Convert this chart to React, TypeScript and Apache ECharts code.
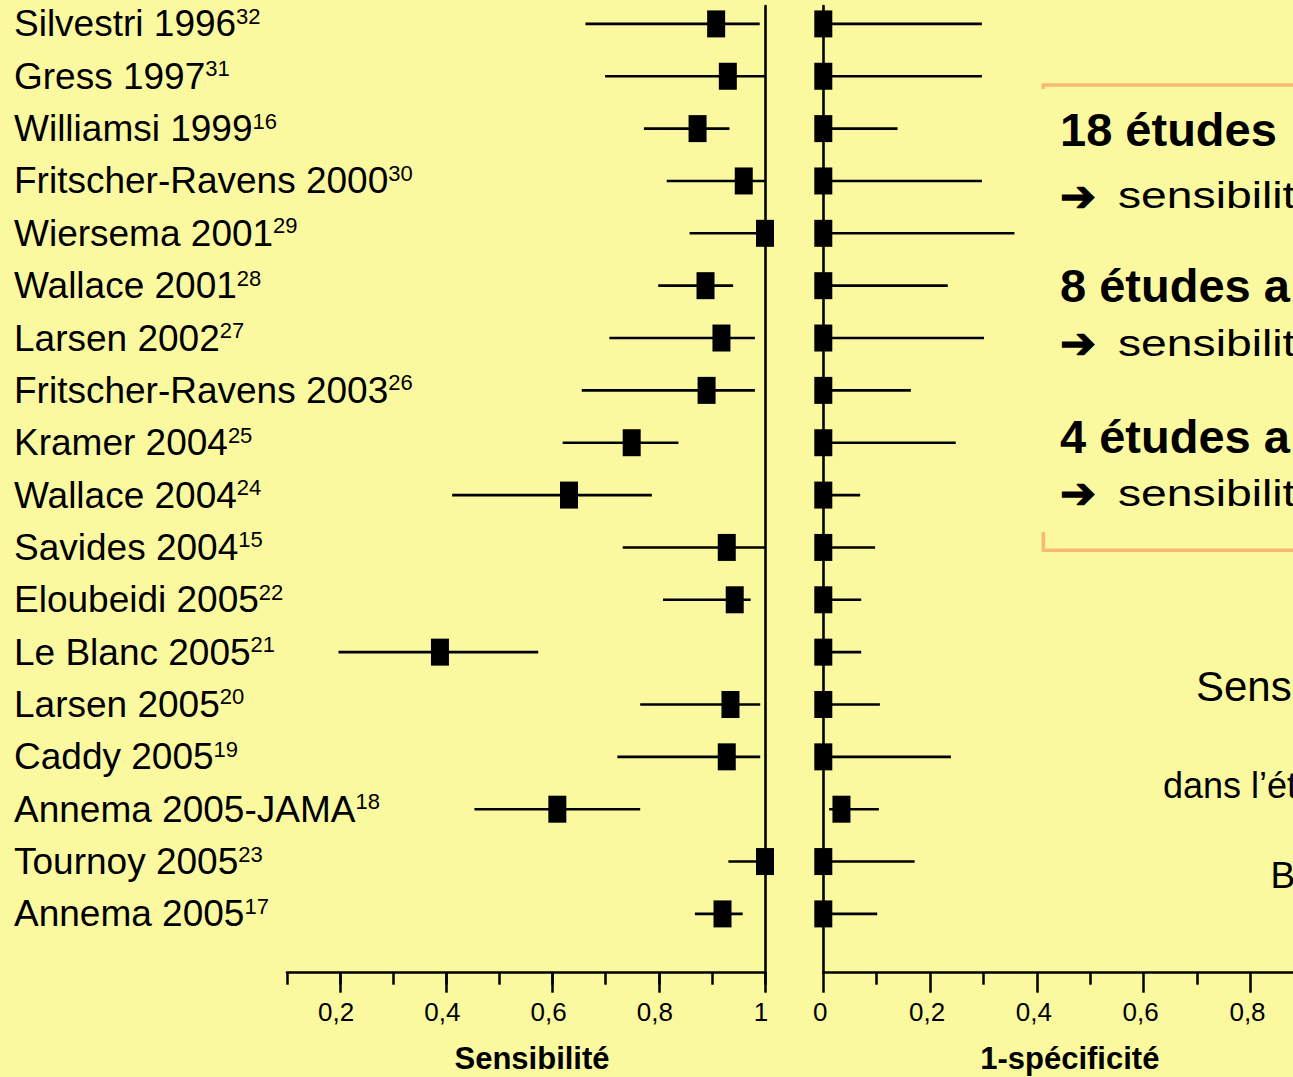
import React, { useEffect, useRef } from "react";
import * as echarts from "echarts";

// ---- data ----
const studies = [
  "Silvestri 1996", "Gress 1997", "Williamsi 1999", "Fritscher-Ravens 2000", "Wiersema 2001",
  "Wallace 2001", "Larsen 2002", "Fritscher-Ravens 2003", "Kramer 2004", "Wallace 2004",
  "Savides 2004", "Eloubeidi 2005", "Le Blanc 2005", "Larsen 2005", "Caddy 2005",
  "Annema 2005-JAMA", "Tournoy 2005", "Annema 2005",
];
const refs = ["32", "31", "16", "30", "29", "28", "27", "26", "25", "24", "15", "22", "21", "20", "19", "18", "23", "17"];

const sensPoint = [0.908, 0.930, 0.873, 0.960, 1.0, 0.888, 0.918, 0.890, 0.749, 0.631, 0.928, 0.943, 0.388, 0.935, 0.928, 0.609, 1.0, 0.920];
const sensLow = [0.662, 0.699, 0.772, 0.815, 0.858, 0.799, 0.707, 0.655, 0.619, 0.411, 0.732, 0.808, 0.197, 0.765, 0.722, 0.453, 0.931, 0.868];
const sensHigh = [0.990, 1.0, 0.933, 1.0, 1.0, 0.940, 0.981, 0.981, 0.837, 0.787, 1.0, 0.973, 0.573, 0.991, 0.991, 0.765, 1.0, 0.958];

const fprPoint = [0, 0, 0, 0, 0, 0, 0, 0, 0, 0, 0, 0, 0, 0, 0, 0.034, 0, 0];
const fprLow = [0, 0, 0, 0, 0, 0, 0, 0, 0, 0, 0, 0, 0, 0, 0, 0.011, 0, 0];
const fprHigh = [0.297, 0.297, 0.139, 0.297, 0.358, 0.233, 0.301, 0.164, 0.248, 0.069, 0.097, 0.071, 0.071, 0.106, 0.239, 0.104, 0.171, 0.101];

const sensMajorTicks = [0.2, 0.4, 0.6, 0.8, 1.0];
const sensTitle = "Sensibilité";
const fprTitle = "1-spécificité";

const boxBold = ["18 études", "8 études a", "4 études a"];
const boxArrowText = ["sensibilité", "sensibilité", "sensibilité"];
const sideTexts = ["Sensibilité", "dans l’étude", "B"];

// ---- styling ----
const BG = "#FBF9A0";
const FONT = "'Liberation Sans', Arial, sans-serif";
const ORANGE = "#F8B977";
const Y_MIN = -0.342;
const Y_MAX = 18.123;
const rowIdx = studies.map((_, i) => i);
const fmt = (v: number) => {
  const r = Math.round(v * 10) / 10;
  return String(r).replace(".", ",");
};

function buildOption() {
  const tickStyle = { color: "#000", width: 2.5 };
  const lineStyle = { color: "#000", width: 2.6 };

  const ciRender = (_params: any, api: any) => {
    const y = api.value(2);
    const p1 = api.coord([api.value(0), y]);
    const p2 = api.coord([api.value(1), y]);
    return {
      type: "line",
      shape: { x1: p1[0], y1: p1[1], x2: p2[0], y2: p2[1] },
      style: { stroke: "#000", lineWidth: 2.6 },
    };
  };

  const graphics: any[] = [];
  const boldY = [129, 285, 436.7];
  const arrowY = [195.5, 343.3, 493.3];
  boxBold.forEach((t, i) => {
    graphics.push({
      type: "text",
      x: 1060,
      y: boldY[i],
      style: {
        text: t,
        fontFamily: FONT,
        fontSize: 47,
        fontWeight: "bold",
        fill: "#000",
        align: "left",
        verticalAlign: "middle",
      },
    });
    graphics.push({
      type: "text",
      x: 1060,
      y: arrowY[i],
      style: {
        text: "➔",
        fontFamily: "'DejaVu Sans', sans-serif",
        fontSize: 43,
        fontWeight: "bold",
        fill: "#000",
        stroke: "#000",
        lineWidth: 1.2,
        align: "left",
        verticalAlign: "middle",
      },
    });
    graphics.push({
      type: "text",
      x: 1118,
      y: arrowY[i],
      scaleX: 1.25,
      style: {
        text: boxArrowText[i],
        fontFamily: FONT,
        fontSize: 37,
        fill: "#000",
        align: "left",
        verticalAlign: "middle",
      },
    });
  });
  graphics.push({
    type: "polyline",
    shape: { points: [[1043.3, 89], [1043.3, 85], [1310, 85]] },
    style: { stroke: ORANGE, lineWidth: 3.6, fill: null },
  });
  graphics.push({
    type: "polyline",
    shape: { points: [[1043.3, 532], [1043.3, 550.3], [1310, 550.3]] },
    style: { stroke: ORANGE, lineWidth: 3.6, fill: null },
  });
  const sidePos = [
    { x: 1196, y: 686, size: 42 },
    { x: 1163, y: 785, size: 36 },
    { x: 1270.5, y: 875, size: 37 },
  ];
  sideTexts.forEach((t, i) => {
    graphics.push({
      type: "text",
      x: sidePos[i].x,
      y: sidePos[i].y,
      style: {
        text: t,
        fontFamily: FONT,
        fontSize: sidePos[i].size,
        fill: "#000",
        align: "left",
        verticalAlign: "middle",
      },
    });
  });

  return {
    animation: false,
    backgroundColor: BG,
    grid: [
      { left: 287, top: 6, width: 478, height: 966.7, outerBoundsMode: "none", containLabel: false },
      { left: 823.3, top: 6, width: 534, height: 966.7, outerBoundsMode: "none", containLabel: false },
    ],
    xAxis: [
      {
        gridIndex: 0, type: "value", min: 0.1, max: 1, interval: 0.1, position: "bottom",
        axisLine: { show: true, onZero: false, lineStyle },
        axisTick: { show: true, length: 12, lineStyle: tickStyle },
        axisLabel: { show: false },
        splitLine: { show: false },
      },
      {
        gridIndex: 0, type: "value", min: 0.1, max: 1, position: "bottom",
        axisLine: { show: false, onZero: false },
        axisTick: { show: true, length: 20, customValues: sensMajorTicks, lineStyle: tickStyle },
        axisLabel: {
          show: true, customValues: sensMajorTicks, formatter: fmt,
          fontSize: 26, fontFamily: FONT, color: "#000", margin: 26.5, padding: [0, 8, 0, 0],
        },
        splitLine: { show: false },
        name: sensTitle, nameLocation: "middle", nameGap: 70,
        nameTextStyle: { fontSize: 31, fontWeight: "bold", fontFamily: FONT, color: "#000", padding: [0, 0, 0, 12] },
      },
      {
        gridIndex: 1, type: "value", min: 0, max: 1, interval: 0.2, position: "bottom",
        axisLine: { show: true, onZero: false, lineStyle },
        axisTick: { show: true, length: 20, lineStyle: tickStyle },
        minorTick: { show: true, splitNumber: 2, length: 12, lineStyle: tickStyle },
        axisLabel: {
          show: true, formatter: fmt, fontSize: 26, fontFamily: FONT, color: "#000", margin: 26.5,
          showMinLabel: true, showMaxLabel: true, padding: [0, 6, 0, 0],
        },
        splitLine: { show: false },
        minorSplitLine: { show: false },
        name: fprTitle, nameLocation: "middle", nameGap: 70,
        nameTextStyle: { fontSize: 31, fontWeight: "bold", fontFamily: FONT, color: "#000", padding: [0, 41, 0, 0] },
      },
    ],
    yAxis: [
      {
        gridIndex: 0, type: "value", inverse: true, min: Y_MIN, max: Y_MAX, position: "left",
        axisLine: { show: false, onZero: false }, axisTick: { show: false }, splitLine: { show: false },
        axisLabel: {
          show: true,
          customValues: rowIdx,
          align: "left",
          margin: 273,
          formatter: (v: number) => {
            const i = Math.round(v);
            return "{n|" + studies[i] + "}{s|" + refs[i] + "}";
          },
          rich: {
            n: { fontSize: 37, lineHeight: 37, fontFamily: FONT, color: "#000" },
            s: { fontSize: 22, lineHeight: 26, fontFamily: FONT, color: "#000", verticalAlign: "top" },
          },
        },
      },
      {
        gridIndex: 0, type: "value", inverse: true, min: Y_MIN, max: Y_MAX, position: "right",
        axisLine: { show: true, onZero: false, lineStyle }, axisTick: { show: false }, axisLabel: { show: false },
        splitLine: { show: false },
      },
      {
        gridIndex: 1, type: "value", inverse: true, min: Y_MIN, max: Y_MAX, position: "left",
        axisLine: { show: true, onZero: false, lineStyle }, axisTick: { show: false }, axisLabel: { show: false },
        splitLine: { show: false },
      },
    ],
    series: [
      {
        type: "custom", xAxisIndex: 0, yAxisIndex: 0, silent: true,
        renderItem: ciRender,
        encode: { x: [0, 1], y: 2 },
        data: rowIdx.map((i) => [sensLow[i], sensHigh[i], i]),
      },
      {
        type: "scatter", xAxisIndex: 0, yAxisIndex: 0, silent: true,
        symbol: "rect", symbolSize: [18, 27],
        itemStyle: { color: "#000", opacity: 1 },
        data: rowIdx.map((i) => [sensPoint[i], i]),
      },
      {
        type: "custom", xAxisIndex: 2, yAxisIndex: 2, silent: true,
        renderItem: ciRender,
        encode: { x: [0, 1], y: 2 },
        data: rowIdx.map((i) => [fprLow[i], fprHigh[i], i]),
      },
      {
        type: "scatter", xAxisIndex: 2, yAxisIndex: 2, silent: true,
        symbol: "rect", symbolSize: [18, 27],
        itemStyle: { color: "#000", opacity: 1 },
        data: rowIdx.map((i) => [fprPoint[i], i]),
      },
    ],
    graphic: graphics,
  };
}

export default function App() {
  const ref = useRef<HTMLDivElement>(null);
  useEffect(() => {
    document.body.style.margin = "0";
    document.body.style.background = BG;
    const chart = echarts.init(ref.current as HTMLDivElement, null, { renderer: "svg" });
    chart.setOption(buildOption() as any);
    return () => chart.dispose();
  }, []);
  return <div ref={ref} style={{ width: 1293, height: 1077, overflow: "hidden" }} />;
}
